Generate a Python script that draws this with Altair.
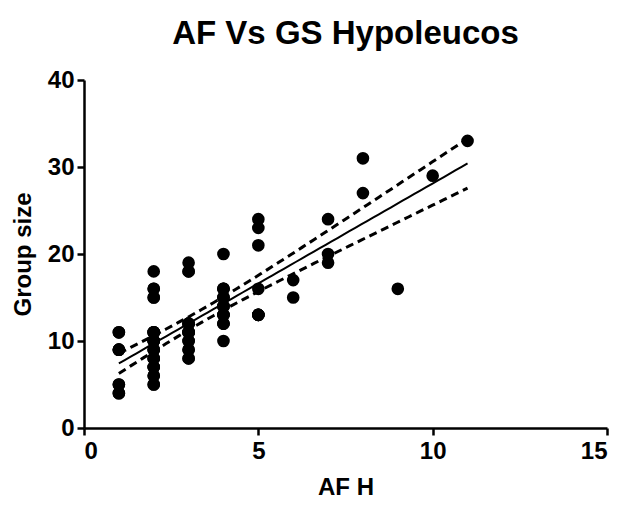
import altair as alt
import pandas as pd
import numpy as np

# AF H values and group sizes
# (dense columns at AF H = 1..5 hold overlapping, repeated observations)
af_h = ([1] * 9 + [2] * 26 + [3] * 17 + [4] * 17 + [5] * 8 +
        [6] * 2 + [7] * 3 + [8] * 2 + [9, 10, 11])
group_size = [
    # AF H = 1
    11, 9, 5, 4, 4, 5, 9, 9, 11,
    # AF H = 2
    18, 16, 15, 11, 10, 9, 8, 7, 6, 5,
    5, 6, 7, 8, 9, 10, 11, 10, 11, 7, 8, 9, 10, 11, 15, 16,
    # AF H = 3
    19, 18, 12, 11, 10, 9, 8,
    8, 9, 10, 11, 12, 11, 12, 12, 11, 18,
    # AF H = 4
    20, 16, 15, 14, 13, 12, 10,
    12, 13, 14, 15, 16, 12, 13, 14, 15, 16,
    # AF H = 5
    24, 23, 21, 16, 13, 13, 13, 13,
    # AF H = 6
    17, 15,
    # AF H = 7
    24, 20, 19,
    # AF H = 8
    31, 27,
    # AF H = 9, 10, 11
    16, 29, 33,
]

pts = pd.DataFrame({"x": af_h, "y": group_size})

# linear fit with 95% confidence band of the fitted line
x = np.array(af_h, dtype=float)
y = np.array(group_size, dtype=float)
n = len(x)
slope, intercept = np.polyfit(x, y, 1)
resid = y - (slope * x + intercept)
s = np.sqrt((resid ** 2).sum() / (n - 2))
sxx = ((x - x.mean()) ** 2).sum()
t = 1.988
xs = np.linspace(x.min(), x.max(), 60)
fit = slope * xs + intercept
half = t * s * np.sqrt(1.0 / n + (xs - x.mean()) ** 2 / sxx)
fitdf = pd.DataFrame({"x": xs, "fit": fit, "lo": fit - half, "hi": fit + half})

xscale = alt.Scale(domain=[0, 15], nice=False, zero=False)
yscale = alt.Scale(domain=[0, 40], nice=False, zero=False)

xaxis = alt.Axis(title="AF H", values=[0, 5, 10, 15], format="d",
                 labelPadding=4, titlePadding=12)
yaxis = alt.Axis(title="Group size", values=[0, 10, 20, 30, 40], format="d",
                 labelPadding=3, titlePadding=12)

points = alt.Chart(pts).mark_circle(size=160, color="black", opacity=1).encode(
    x=alt.X("x:Q", scale=xscale, axis=xaxis),
    y=alt.Y("y:Q", scale=yscale, axis=yaxis),
)

line = alt.Chart(fitdf).mark_line(color="black", strokeWidth=2).encode(
    x=alt.X("x:Q", scale=xscale), y=alt.Y("fit:Q", scale=yscale)
)
lo = alt.Chart(fitdf).mark_line(color="black", strokeWidth=3, strokeDash=[8, 5]).encode(
    x=alt.X("x:Q", scale=xscale), y=alt.Y("lo:Q", scale=yscale)
)
hi = alt.Chart(fitdf).mark_line(color="black", strokeWidth=3, strokeDash=[8, 5]).encode(
    x=alt.X("x:Q", scale=xscale), y=alt.Y("hi:Q", scale=yscale)
)

chart = alt.layer(lo, hi, line, points).properties(
    width=523,
    height=348,
    autosize=alt.AutoSizeParams(type="none"),
    padding={"left": 76, "top": 72, "right": 14, "bottom": 73},
    title=alt.TitleParams(
        "AF Vs GS Hypoleucos",
        font="Liberation Sans",
        fontSize=33,
        fontWeight="bold",
        color="black",
        anchor="middle",
        offset=17,
    ),
).configure_view(stroke=None).configure_axis(
    grid=False,
    domainColor="black",
    domainWidth=2.5,
    tickColor="black",
    tickWidth=2.5,
    tickSize=7,
    labelFont="Liberation Sans",
    labelFontWeight="bold",
    labelFontSize=24,
    labelColor="black",
    titleFont="Liberation Sans",
    titleFontWeight="bold",
    titleFontSize=24,
    titleColor="black",
)

chart.save("out.html", embed_options={"renderer": "svg", "actions": False})
